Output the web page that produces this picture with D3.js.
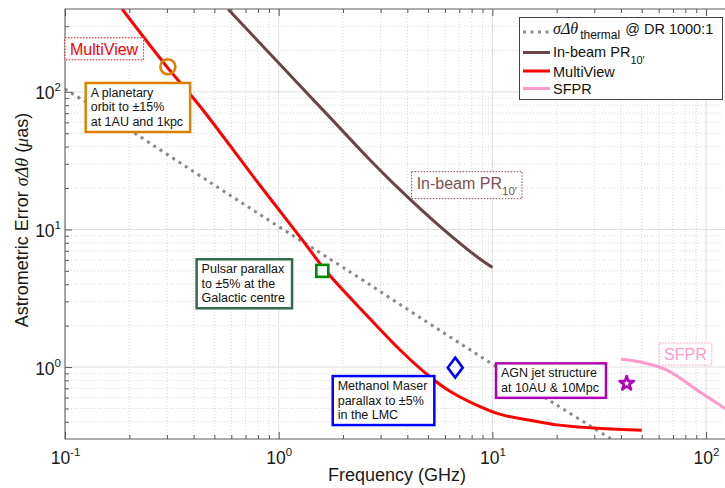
<!DOCTYPE html>
<html lang="en">
<head>
  <meta charset="UTF-8">
  <title>Astrometric error vs frequency</title>
  <style>
    * { margin: 0; padding: 0; }
    body { background: #fff; }
    svg { font-family: "Liberation Sans", Arial, Helvetica, sans-serif; display: block; }
    .serif { font-family: "Liberation Serif", "DejaVu Serif", serif; font-style: italic; }
  </style>
  <script src="https://cdn.jsdelivr.net/npm/d3@7/dist/d3.min.js"></script>
</head>
<body>
  <svg id="chart" width="725" height="488"></svg>

  <script>
    // curves (frequency in GHz, error in micro-arcsec)
    const thermalFreq = [0.1, 0.2, 0.5, 1, 2, 5, 10, 20, 36];
    const thermalErr  = [105, 53, 21, 10.5, 5.3, 2.1, 1.05, 0.53, 0.3];

    const inbeamFreq = [0.58, 1.0, 1.8, 2.6, 3.7, 5.7, 8.75, 10];
    const inbeamErr  = [398, 162, 61.5, 33.5, 19.4, 10.5, 6.1, 5.3];

    const multiFreq = [0.185, 0.3, 0.43, 0.77, 1.26, 1.68, 2.6, 3.7, 5.1, 6.3, 8.1, 10.8, 15, 20, 30, 50];
    const multiErr  = [400, 152, 78, 23.6, 8.8, 4.9, 2.35, 1.33, 0.85, 0.67, 0.545, 0.455, 0.41, 0.38, 0.36, 0.348];

    const sfprFreq = [40, 49, 65.6, 93.5, 125];
    const sfprErr  = [1.14, 1.09, 0.95, 0.66, 0.49];

    // science cases: marker position + annotation text
    const siteFreq = [0.303, 1.6, 6.7, 42.5];
    const siteErr  = [152, 5.0, 0.99, 0.76];
    const siteText = [
      ['A planetary', 'orbit to \u00b115%', 'at 1AU and 1kpc'],
      ['Pulsar parallax', 'to \u00b15% at the', 'Galactic centre'],
      ['Methanol Maser', 'parallax to \u00b15%', 'in the LMC'],
      ['AGN jet structure', 'at 10AU & 10Mpc']
    ];
    // top-left corner of each annotation box, in data units
    const boxFreq = [0.125, 0.413, 1.79, 10.4];
    const boxErr  = [116, 6.07, 0.86, 1.064];

    const xTicks = [0.1, 1, 10, 100];
    const yTicks = [1, 10, 100];

    const svg = d3.select('#chart');
    const x = d3.scaleLog().domain([0.1, 130]).range([65, 730.4]);
    const y = d3.scaleLog().domain([0.3, 400]).range([439, 9]);
    const [x0, x1] = x.range();
    const [y0, y1] = y.range();
    const axisColor = '#5a5a5a';

    function minorTicks(scale) {
      const [lo, hi] = scale.domain();
      const out = [];
      for (let e = -2; e <= 3; e++) {
        for (let m = 2; m <= 9; m++) {
          const v = +(m * Math.pow(10, e)).toPrecision(3);
          if (v > lo && v < hi) out.push(v);
        }
      }
      return out;
    }
    const xMinor = minorTicks(x);
    const yMinor = minorTicks(y);

    svg.append('defs').append('clipPath').attr('id', 'plot')
      .append('rect').attr('x', x0).attr('y', y1)
      .attr('width', x1 - x0).attr('height', y0 - y1);

    // grid
    const grid = svg.append('g');
    grid.selectAll('.gxm').data(xMinor).join('line')
      .attr('x1', d => x(d)).attr('x2', d => x(d)).attr('y1', y0).attr('y2', y1)
      .attr('stroke', '#cfcfcf').attr('stroke-width', 0.8).attr('stroke-dasharray', '1,2');
    grid.selectAll('.gym').data(yMinor).join('line')
      .attr('y1', d => y(d)).attr('y2', d => y(d)).attr('x1', x0).attr('x2', x1)
      .attr('stroke', '#cfcfcf').attr('stroke-width', 0.8).attr('stroke-dasharray', '1,2');
    grid.selectAll('.gx').data(xTicks).join('line')
      .attr('x1', d => x(d)).attr('x2', d => x(d)).attr('y1', y0).attr('y2', y1)
      .attr('stroke', '#e0e0e0').attr('stroke-width', 1);
    grid.selectAll('.gy').data(yTicks).join('line')
      .attr('y1', d => y(d)).attr('y2', d => y(d)).attr('x1', x0).attr('x2', x1)
      .attr('stroke', '#e0e0e0').attr('stroke-width', 1);

    // curves
    const line = d3.line().x(d => x(d[0])).y(d => y(d[1])).curve(d3.curveCatmullRom.alpha(0.5));
    const series = [
      { f: thermalFreq, v: thermalErr, color: '#8a8a8a', dash: '3,4.5' },
      { f: inbeamFreq, v: inbeamErr, color: '#6b4545' },
      { f: multiFreq, v: multiErr, color: '#ff0000' },
      { f: sfprFreq, v: sfprErr, color: '#ff99cc' }
    ];
    const curves = svg.append('g').attr('clip-path', 'url(#plot)');
    series.forEach(s => {
      curves.append('path')
        .datum(d3.zip(s.f, s.v))
        .attr('d', line)
        .attr('fill', 'none')
        .attr('stroke', s.color)
        .attr('stroke-width', 3)
        .attr('stroke-dasharray', s.dash || null);
    });

    // axes (ticks pointing inward, matlab style)
    function powLabel(sel, fs) {
      sel.each(function(d) {
        const t = d3.select(this).text(null)
          .attr('font-size', fs).attr('fill', '#1a1a1a')
          .attr('font-family', '"Liberation Sans", Arial, sans-serif');
        t.append('tspan').text('10');
        t.append('tspan').attr('dy', -8).attr('font-size', 11.5).text(Math.round(Math.log10(d)));
      });
    }
    function styleTicks(g) {
      g.select('.domain').remove();
      g.selectAll('.tick line').attr('stroke', axisColor);
    }

    const gx = svg.append('g').attr('transform', `translate(0,${y0})`)
      .call(d3.axisBottom(x).tickValues(xTicks).tickSizeInner(-7).tickSizeOuter(0).tickPadding(0))
      .call(styleTicks);
    gx.selectAll('.tick text').attr('y', 25).attr('dy', null).call(powLabel, 17.5);

    svg.append('g').attr('transform', `translate(0,${y0})`)
      .call(d3.axisBottom(x).tickValues(xMinor).tickSizeInner(-4).tickSizeOuter(0).tickFormat(''))
      .call(styleTicks);
    svg.append('g').attr('transform', `translate(0,${y1})`)
      .call(d3.axisTop(x).tickValues(xTicks).tickSizeInner(-7).tickSizeOuter(0).tickFormat(''))
      .call(styleTicks);
    svg.append('g').attr('transform', `translate(0,${y1})`)
      .call(d3.axisTop(x).tickValues(xMinor).tickSizeInner(-4).tickSizeOuter(0).tickFormat(''))
      .call(styleTicks);

    const gy = svg.append('g').attr('transform', `translate(${x0},0)`)
      .call(d3.axisLeft(y).tickValues(yTicks).tickSizeInner(-7).tickSizeOuter(0).tickPadding(4))
      .call(styleTicks);
    gy.selectAll('.tick text').attr('y', 7).attr('dy', null).call(powLabel, 17.5);

    svg.append('g').attr('transform', `translate(${x0},0)`)
      .call(d3.axisLeft(y).tickValues(yMinor).tickSizeInner(-4).tickSizeOuter(0).tickFormat(''))
      .call(styleTicks);

    svg.append('rect')
      .attr('x', x0).attr('y', y1).attr('width', x1 - x0).attr('height', y0 - y1)
      .attr('fill', 'none').attr('stroke', axisColor).attr('stroke-width', 1);

    // axis titles
    svg.append('text')
      .attr('x', 397).attr('y', 481).attr('text-anchor', 'middle')
      .attr('font-size', 18).attr('fill', '#1a1a1a')
      .text('Frequency (GHz)');

    const yt = svg.append('text')
      .attr('transform', 'translate(28,220) rotate(-90)')
      .attr('text-anchor', 'middle').attr('font-size', 18).attr('fill', '#1a1a1a');
    yt.append('tspan').text('Astrometric Error ');
    yt.append('tspan').attr('class', 'serif').text('\u03c3\u0394\u03b8');
    yt.append('tspan').text(' (');
    yt.append('tspan').attr('class', 'serif').text('\u03bc');
    yt.append('tspan').text('as)');

    // dotted curve labels
    function dottedLabel(f, v, main, sub, color) {
      const left = x(f), top = y(v);
      const g = svg.append('g');
      const box = g.append('rect');
      const t = g.append('text')
        .attr('x', left + 5).attr('y', top + 17)
        .attr('font-size', 16).attr('fill', color).text(main);
      if (sub) t.append('tspan').attr('dy', 6).attr('font-size', 11.5).text(sub);
      const bb = t.node().getBBox();
      box.attr('x', left).attr('y', top)
        .attr('width', bb.width + 10).attr('height', bb.y + bb.height + 2 - top)
        .attr('fill', '#fff').attr('stroke', color).attr('stroke-width', 1)
        .attr('stroke-dasharray', '1.5,1.5');
    }
    dottedLabel(0.1, 247, 'MultiView', null, '#ff0000');
    dottedLabel(4.19, 26.3, 'In-beam PR', '10\u2032', '#7b4f4f');
    dottedLabel(60.3, 1.494, 'SFPR', null, '#ff99cc');

    // science case boxes
    const boxColor = ['#dc8200', '#336b4d', '#0000ff', '#b000b8'];
    siteText.forEach((lines, i) => {
      const left = x(boxFreq[i]), top = y(boxErr[i]);
      const g = svg.append('g');
      const box = g.append('rect');
      const t = g.append('text').attr('font-size', 12.5).attr('fill', '#111');
      lines.forEach((s, j) => {
        t.append('tspan').attr('x', left + 5).attr('y', top + 14 + j * 14.5).text(s);
      });
      const bb = t.node().getBBox();
      box.attr('x', left).attr('y', top)
        .attr('width', bb.width + 12).attr('height', bb.y + bb.height + 3 - top)
        .attr('fill', '#fff').attr('stroke', boxColor[i]).attr('stroke-width', 2.5);
    });

    // markers
    const markColor = ['#dc8200', '#008a00', '#0000ff', '#b000b8'];
    const mk = svg.append('g').attr('fill', 'none').attr('stroke-width', 2.6);
    mk.append('circle')
      .attr('cx', x(siteFreq[0])).attr('cy', y(siteErr[0])).attr('r', 7.5)
      .attr('stroke', markColor[0]);
    mk.append('rect')
      .attr('x', x(siteFreq[1]) - 6).attr('y', y(siteErr[1]) - 6)
      .attr('width', 12).attr('height', 12)
      .attr('fill', '#fff').attr('stroke', markColor[1]);
    mk.append('path')
      .attr('transform', `translate(${x(siteFreq[2])},${y(siteErr[2])})`)
      .attr('d', 'M0,-10L7.5,0L0,10L-7.5,0Z')
      .attr('stroke', markColor[2]);
    mk.append('path')
      .attr('transform', `translate(${x(siteFreq[3])},${y(siteErr[3])})`)
      .attr('d', d3.symbol(d3.symbolStar, 62)())
      .attr('stroke', markColor[3]).attr('stroke-linejoin', 'round');

    // legend
    const lg = svg.append('g');
    lg.append('rect').attr('x', 519.5).attr('y', 17.5).attr('width', 203).attr('height', 82)
      .attr('fill', '#fff').attr('stroke', '#444').attr('stroke-width', 1);
    const legendRows = [
      { y: 32, color: '#8a8a8a', dash: '3,4.5' },
      { y: 52.5, color: '#6b4545' },
      { y: 71, color: '#ff0000' },
      { y: 88.5, color: '#ff99cc' }
    ];
    legendRows.forEach(r => {
      lg.append('line').attr('x1', 523).attr('x2', 550).attr('y1', r.y).attr('y2', r.y)
        .attr('stroke', r.color).attr('stroke-width', 3)
        .attr('stroke-dasharray', r.dash || null);
    });
    const l1 = lg.append('text').attr('x', 553).attr('y', 33.5).attr('font-size', 14.5).attr('fill', '#111');
    l1.append('tspan').attr('class', 'serif').attr('font-size', 16).text('\u03c3\u0394\u03b8');
    l1.append('tspan').attr('dx', 2).attr('dy', 5.5).attr('font-size', 12).text('thermal');
    l1.append('tspan').attr('dx', 5).attr('dy', -5.5).text('@ DR 1000:1');
    const l2 = lg.append('text').attr('x', 553).attr('y', 56.5).attr('font-size', 14.5).attr('fill', '#111');
    l2.append('tspan').text('In-beam PR');
    l2.append('tspan').attr('dy', 7).attr('font-size', 11).text('10\u2032');
    lg.append('text').attr('x', 553).attr('y', 77).attr('font-size', 14.5).attr('fill', '#111').text('MultiView');
    lg.append('text').attr('x', 553).attr('y', 94).attr('font-size', 14.5).attr('fill', '#111').text('SFPR');
  </script>
</body>
</html>
